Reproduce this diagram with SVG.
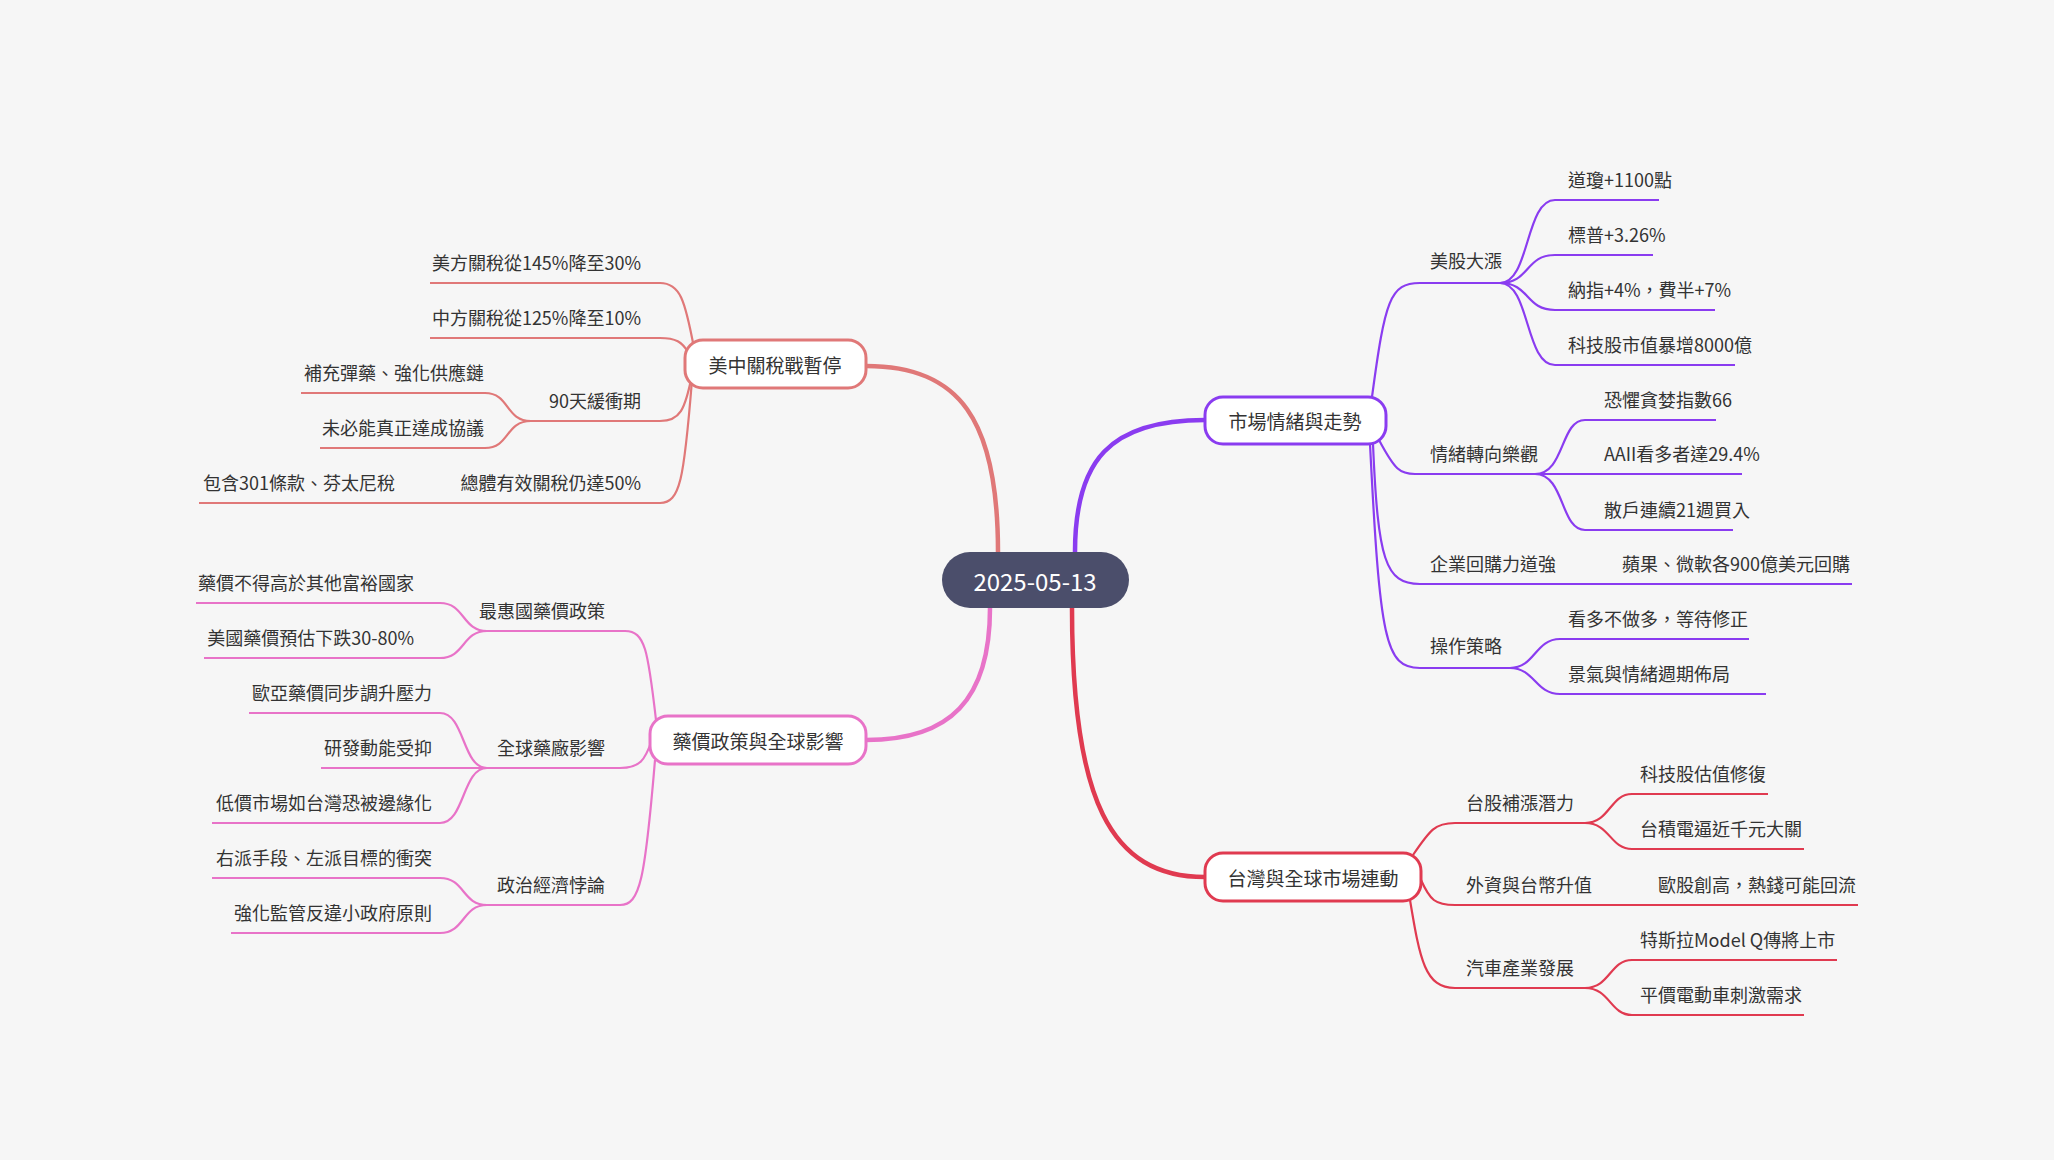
<svg xmlns="http://www.w3.org/2000/svg" width="2054" height="1160" viewBox="0 0 2054 1160">
<style>
text{font-family:"Noto Sans CJK TC","Noto Sans",sans-serif;font-size:18px;fill:#333}
.e{text-anchor:end}
.n{font-size:19px;text-anchor:middle;dominant-baseline:central}
path{fill:none;stroke-width:2.2}
.p{stroke:#8a3cf0}.r{stroke:#e03a50}.t{stroke:#e07878}.d{stroke:#e873c8}
.b{stroke-width:4.5}
.box{fill:#fff;stroke-width:3}
</style>
<rect width="2054" height="1160" fill="#f6f6f6"/>
<g id="connectors">
<path class="t b" d="M998,552 C998,420 960,366 866,366"/>
<path class="d b" d="M990,608 C990,700 950,740 866,740"/>
<path class="p b" d="M1075,552 C1075,460 1110,420 1205,420"/>
<path class="r b" d="M1072,608 C1072,800 1110,877 1205,877"/>
<path class="p" d="M1372,397 C1385,300 1390,283 1420,283 L1500,283"/>
<path class="p" d="M1500,283 C1530,283 1525,200 1555,200 L1659,200"/>
<path class="p" d="M1500,283 C1530,283 1525,255 1555,255 L1653,255"/>
<path class="p" d="M1500,283 C1530,283 1525,310 1555,310 L1715,310"/>
<path class="p" d="M1500,283 C1530,283 1525,365 1555,365 L1735,365"/>
<path class="p" d="M1379,440 C1395,470 1400,474 1415,474 L1535,474"/>
<path class="p" d="M1535,474 C1565,474 1560,420 1585,420 L1716,420"/>
<path class="p" d="M1535,474 L1742,474"/>
<path class="p" d="M1535,474 C1565,474 1560,530 1585,530 L1733,530"/>
<path class="p" d="M1373,444 C1378,560 1385,584 1420,584 L1852,584"/>
<path class="p" d="M1370,444 C1380,640 1385,668 1420,668 L1510,668"/>
<path class="p" d="M1510,668 C1535,668 1535,639 1560,639 L1749,639"/>
<path class="p" d="M1510,668 C1535,668 1535,694 1560,694 L1766,694"/>
<path class="r" d="M1413,855 C1430,830 1435,823 1455,823 L1585,823"/>
<path class="r" d="M1585,823 C1610,823 1610,794 1632,794 L1768,794"/>
<path class="r" d="M1585,823 C1610,823 1610,849 1632,849 L1804,849"/>
<path class="r" d="M1421,880 C1430,900 1435,905 1455,905 L1858,905"/>
<path class="r" d="M1410,900 C1420,960 1425,988 1455,988 L1585,988"/>
<path class="r" d="M1585,988 C1610,988 1610,960 1632,960 L1837,960"/>
<path class="r" d="M1585,988 C1610,988 1610,1015 1632,1015 L1804,1015"/>
<path class="t" d="M694,348 C685,300 680,283 660,283 L430,283"/>
<path class="t" d="M688,352 C682,342 676,338 660,338 L430,338"/>
<path class="t" d="M692,375 C685,410 680,421 660,421 L531,421"/>
<path class="t" d="M531,421 C505,421 510,393 485,393 L301,393"/>
<path class="t" d="M531,421 C505,421 510,448 485,448 L320,448"/>
<path class="t" d="M692,380 C684,480 680,503 660,503 L199,503"/>
<path class="d" d="M656,720 C648,650 645,631 625,631 L487,631"/>
<path class="d" d="M487,631 C462,631 465,603 440,603 L196,603"/>
<path class="d" d="M487,631 C462,631 465,658 440,658 L204,658"/>
<path class="d" d="M652,740 C645,760 640,768 620,768 L487,768"/>
<path class="d" d="M487,768 C462,768 465,713 440,713 L249,713"/>
<path class="d" d="M487,768 L321,768"/>
<path class="d" d="M487,768 C462,768 465,823 440,823 L212,823"/>
<path class="d" d="M655,760 C645,880 640,905 620,905 L487,905"/>
<path class="d" d="M487,905 C462,905 465,878 440,878 L212,878"/>
<path class="d" d="M487,905 C462,905 465,933 440,933 L231,933"/>
</g>
<g id="root"><rect x="942" y="552" width="187" height="56" rx="28" fill="#4b4e6b"/><text class="n" x="1035" y="580" style="fill:#fff;font-size:24px">2025-05-13</text></g>
<g id="n1"><rect class="box p" x="1205" y="397" width="181" height="47" rx="18"/><text class="n" x="1295" y="420">市場情緒與走勢</text></g>
<g id="n2"><rect class="box r" x="1205" y="853" width="216" height="48" rx="18"/><text class="n" x="1313" y="877">台灣與全球市場連動</text></g>
<g id="n3"><rect class="box t" x="685" y="340" width="181" height="48" rx="18"/><text class="n" x="775" y="364">美中關稅戰暫停</text></g>
<g id="n4"><rect class="box d" x="650" y="716" width="216" height="48" rx="18"/><text class="n" x="758" y="740">藥價政策與全球影響</text></g>
<g id="right-texts">
<text x="1430" y="268">美股大漲</text>
<text x="1568" y="187">道瓊+1100點</text>
<text x="1568" y="242">標普+3.26%</text>
<text x="1568" y="297">納指+4%，費半+7%</text>
<text x="1568" y="352">科技股市值暴增8000億</text>
<text x="1430" y="461">情緒轉向樂觀</text>
<text x="1604" y="407">恐懼貪婪指數66</text>
<text x="1604" y="461">AAII看多者達29.4%</text>
<text x="1604" y="517">散戶連續21週買入</text>
<text x="1430" y="571">企業回購力道強</text>
<text x="1622" y="571">蘋果、微軟各900億美元回購</text>
<text x="1430" y="653">操作策略</text>
<text x="1568" y="626">看多不做多，等待修正</text>
<text x="1568" y="681">景氣與情緒週期佈局</text>
<text x="1466" y="810">台股補漲潛力</text>
<text x="1640" y="781">科技股估值修復</text>
<text x="1640" y="836">台積電逼近千元大關</text>
<text x="1466" y="892">外資與台幣升值</text>
<text x="1658" y="892">歐股創高，熱錢可能回流</text>
<text x="1466" y="975">汽車產業發展</text>
<text x="1640" y="947">特斯拉Model Q傳將上市</text>
<text x="1640" y="1002">平價電動車刺激需求</text>
</g>
<g id="left-texts">
<text class="e" x="641" y="270">美方關稅從145%降至30%</text>
<text class="e" x="641" y="325">中方關稅從125%降至10%</text>
<text class="e" x="641" y="408">90天緩衝期</text>
<text class="e" x="484" y="380">補充彈藥、強化供應鏈</text>
<text class="e" x="484" y="435">未必能真正達成協議</text>
<text class="e" x="641" y="490">總體有效關稅仍達50%</text>
<text x="203" y="490">包含301條款、芬太尼稅</text>
<text class="e" x="605" y="618">最惠國藥價政策</text>
<text class="e" x="414" y="590">藥價不得高於其他富裕國家</text>
<text class="e" x="414" y="645">美國藥價預估下跌30-80%</text>
<text class="e" x="605" y="755">全球藥廠影響</text>
<text class="e" x="432" y="700">歐亞藥價同步調升壓力</text>
<text class="e" x="432" y="755">研發動能受抑</text>
<text class="e" x="432" y="810">低價市場如台灣恐被邊緣化</text>
<text class="e" x="605" y="892">政治經濟悖論</text>
<text class="e" x="432" y="865">右派手段、左派目標的衝突</text>
<text class="e" x="432" y="920">強化監管反違小政府原則</text>
</g>
</svg>
